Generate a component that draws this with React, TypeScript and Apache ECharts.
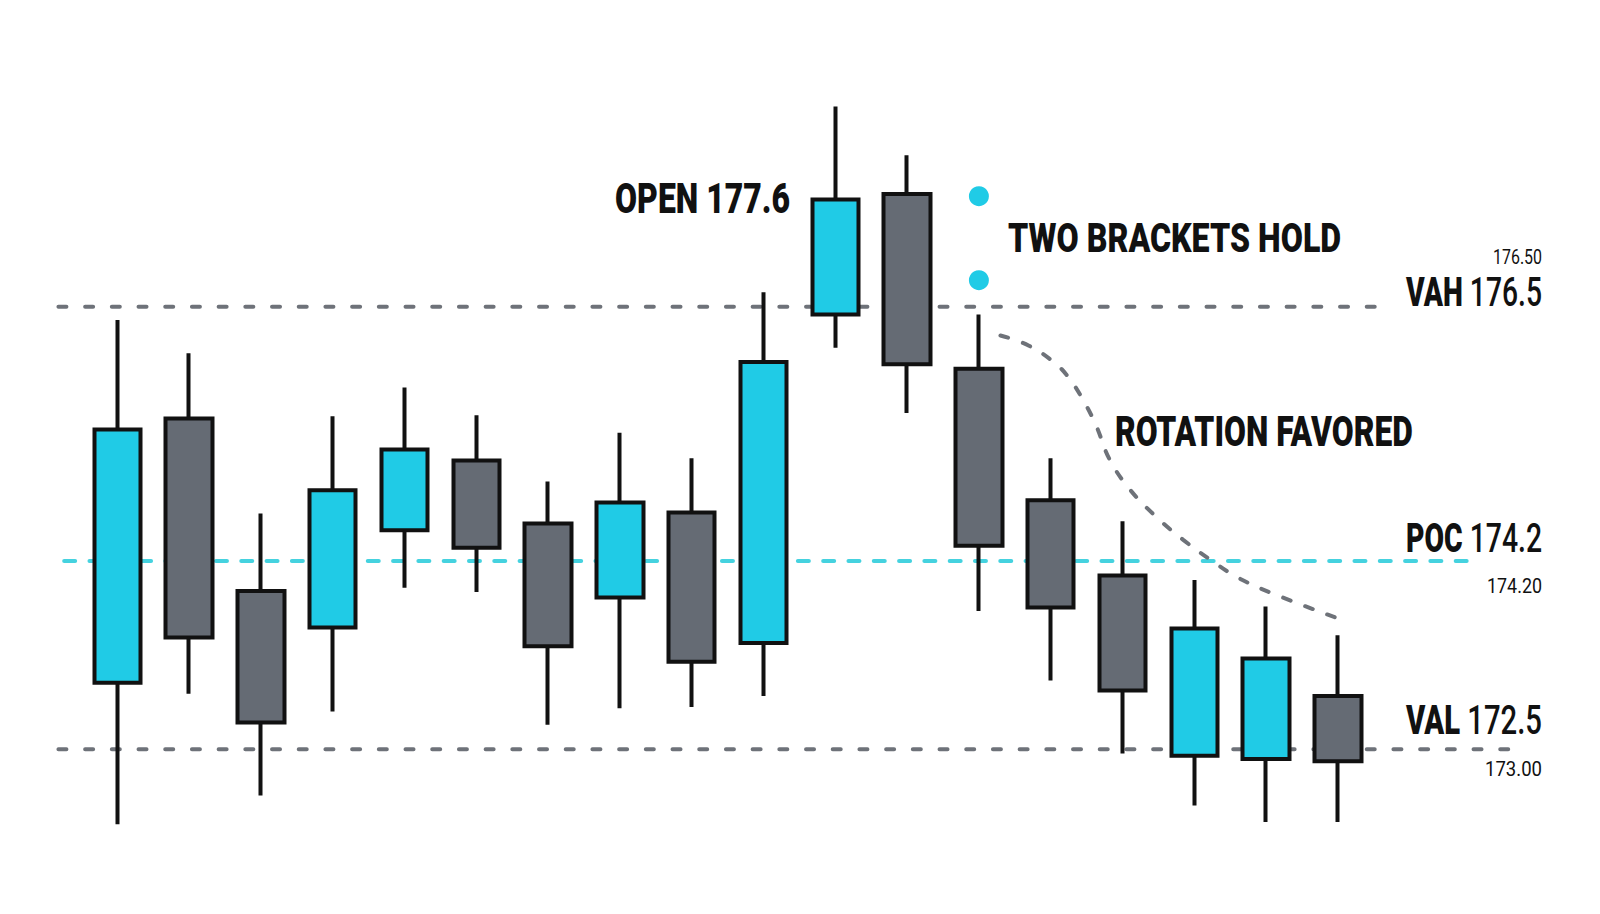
import React, { useEffect, useRef } from 'react';
import * as echarts from 'echarts';

// candles, one per session (x = session index)
const opens = [173.1, 175.49, 173.93, 173.6, 174.48, 175.11, 174.54, 173.87, 174.64, 173.46, 176.43, 177.52, 175.94, 174.75, 174.07, 172.44, 172.41, 172.98];
const closes = [175.39, 173.51, 172.74, 174.84, 175.21, 174.32, 173.43, 174.73, 173.29, 176.0, 177.47, 175.98, 174.34, 173.78, 173.03, 173.59, 173.32, 172.39];
const lows = [171.82, 173.0, 172.08, 172.84, 173.96, 173.92, 172.72, 172.87, 172.88, 172.98, 176.13, 175.54, 173.75, 173.12, 172.46, 171.99, 171.84, 171.84];
const highs = [176.38, 176.08, 174.63, 175.51, 175.77, 175.52, 174.92, 175.36, 175.13, 176.63, 178.31, 177.87, 176.43, 175.13, 174.56, 174.03, 173.79, 173.53];

// value-area levels
const levelNames = ['VAH', 'POC', 'VAL'];
const levelValues = [176.5, 174.2, 172.5];
const levelTags = ['176.50', '174.20', '173.00'];
const levelFrom = [-0.82, -0.74, -0.82];
const levelTo = [17.75, 18.84, 19.44];

// two bracket markers over session 12
const bracketX = [12, 12];
const bracketY = [177.5, 176.74];

// rotation path
const rotationX = [12.3, 12.69, 13.06, 13.25, 13.44, 13.63, 13.82, 14.1, 14.47, 14.85, 15.23, 15.61, 16.12, 17.05];
const rotationY = [176.24, 176.15, 175.99, 175.86, 175.67, 175.43, 175.12, 174.85, 174.6, 174.39, 174.21, 174.05, 173.9, 173.67];

const CYAN = '#20cbe6';
const GREY = '#656b74';
const DASH_GREY = '#6e7279';
const INK = '#111111';
const FONT = 'Roboto';
const HEAVY = '900';

const measureCtx = document.createElement('canvas').getContext('2d') as CanvasRenderingContext2D;
const textWidth = (t: string, weight: string, size: number) => {
  measureCtx.font = `${weight} ${size}px ${FONT}`;
  return measureCtx.measureText(t).width;
};

// condensed heavy caption, squeezed to the width it has in the design
const caption = (text: string, x: number, y: number, size: number, width: number, align: string) => ({
  type: 'text',
  x,
  y,
  scaleX: width / textWidth(text, HEAVY, size),
  silent: true,
  style: {
    text,
    font: `${HEAVY} ${size}px ${FONT}`,
    textAlign: align,
    textVerticalAlign: 'middle',
    fill: INK,
  },
});

// labels to the right of a level: "NAME value" and the small tag
const levelLabel = (i: number, lineY: number) => {
  const nameOffset = [-15, -22.5, -28.5][i];
  const tagOffset = [-50, 24.5, 19.5][i];
  const tagWidth = [49, 55, 57][i];
  const value = levelValues[i].toFixed(1);
  const full = textWidth(levelNames[i], HEAVY, 40) + textWidth(' ' + value, '500', 40);
  return [
    {
      type: 'text',
      x: 1542,
      y: lineY + nameOffset,
      scaleX: 136 / full,
      silent: true,
      style: {
        text: `{b|${levelNames[i]}} ${value}`,
        font: `500 40px ${FONT}`,
        textAlign: 'right',
        textVerticalAlign: 'middle',
        fill: INK,
        rich: {
          b: { fontWeight: HEAVY, fontSize: 40, fontFamily: FONT, fill: INK },
        },
      },
    },
    {
      type: 'text',
      x: 1542,
      y: lineY + tagOffset,
      scaleX: tagWidth / textWidth(levelTags[i], 'normal', 21),
      silent: true,
      style: {
        text: levelTags[i],
        font: `normal 21px ${FONT}`,
        textAlign: 'right',
        textVerticalAlign: 'middle',
        fill: INK,
      },
    },
  ];
};

const App = () => {
  const chartRef = useRef<HTMLDivElement>(null);

  useEffect(() => {
    if (!chartRef.current) return;
    const chart = echarts.init(chartRef.current, null, { renderer: 'svg' });

    const levelSeries = levelValues.map((v, i) => ({
      type: 'line',
      name: levelNames[i],
      data: [
        [levelFrom[i], v],
        [levelTo[i], v],
      ],
      symbol: 'none',
      silent: true,
      z: 1,
      lineStyle: {
        color: levelNames[i] === 'POC' ? '#45d2df' : DASH_GREY,
        width: 4,
        cap: 'round',
        type: levelNames[i] === 'POC' ? [11, 14.3] : [8, 18.7],
      },
    }));

    const option: any = {
      animation: false,
      backgroundColor: '#ffffff',
      grid: { left: 45.5, right: 46.7, top: 74.5, bottom: 21.1 },
      xAxis: { type: 'value', min: -1, max: 20, show: false },
      yAxis: { type: 'value', min: 171.2, max: 178.6, show: false },
      series: [
        ...levelSeries,
        {
          type: 'candlestick',
          name: 'price',
          z: 2,
          barWidth: 47,
          data: opens.map((o, i) => [i, o, closes[i], lows[i], highs[i]]),
          itemStyle: {
            color: CYAN,
            color0: GREY,
            borderColor: INK,
            borderColor0: INK,
            borderColorDoji: INK,
            borderWidth: 4,
          },
        },
        {
          type: 'scatter',
          name: 'brackets',
          z: 3,
          symbolSize: 20,
          data: bracketX.map((x, i) => [x, bracketY[i]]),
          itemStyle: { color: CYAN, opacity: 1 },
        },
        {
          type: 'line',
          name: 'rotation',
          z: 3,
          smooth: 0.4,
          symbol: 'none',
          data: rotationX.map((x, i) => [x, rotationY[i]]),
          lineStyle: { color: DASH_GREY, width: 4, cap: 'round', type: [8, 15.5] },
        },
      ],
    };

    chart.setOption(option);

    const labels: any[] = [
      caption('OPEN 177.6', 790, 198.7, 43, 175, 'right'),
      caption('TWO BRACKETS HOLD', 1008, 238.3, 40, 333, 'left'),
      caption('ROTATION FAVORED', 1115, 431.7, 42, 298, 'left'),
    ];
    levelValues.forEach((v, i) => {
      const y = chart.convertToPixel({ yAxisIndex: 0 }, v) as number;
      labels.push(...levelLabel(i, y));
    });
    chart.setOption({ graphic: labels });

    return () => {
      chart.dispose();
    };
  }, []);

  return <div ref={chartRef} style={{ position: 'fixed', left: 0, top: 0, width: '100vw', height: '100vh' }} />;
};

export default App;
